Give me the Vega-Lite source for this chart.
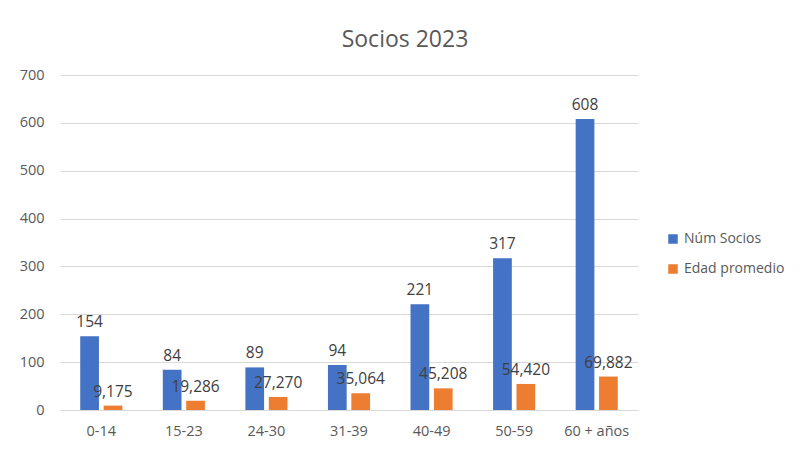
{
  "$schema": "https://vega.github.io/schema/vega-lite/v6.json",
  "width": 578,
  "height": 335,
  "autosize": {"type": "none"},
  "padding": {"left": 60, "top": 75, "right": 164, "bottom": 39},
  "background": "white",
  "config": {
    "locale": {"number": {"decimal": ",", "thousands": ".", "grouping": [3], "currency": ["", ""]}},
    "font": "Open Sans",
    "view": {"stroke": null}
  },
  "title": {
    "text": "Socios 2023",
    "fontSize": 23,
    "fontWeight": "normal",
    "color": "#595959",
    "font": "Open Sans",
    "anchor": "middle",
    "dx": 56,
    "offset": 15
  },
  "data": {
    "values": [
      {"edad": "0-14", "serie": "Núm Socios", "valor": 154},
      {"edad": "0-14", "serie": "Edad promedio", "valor": 9.175},
      {"edad": "15-23", "serie": "Núm Socios", "valor": 84},
      {"edad": "15-23", "serie": "Edad promedio", "valor": 19.286},
      {"edad": "24-30", "serie": "Núm Socios", "valor": 89},
      {"edad": "24-30", "serie": "Edad promedio", "valor": 27.27},
      {"edad": "31-39", "serie": "Núm Socios", "valor": 94},
      {"edad": "31-39", "serie": "Edad promedio", "valor": 35.064},
      {"edad": "40-49", "serie": "Núm Socios", "valor": 221},
      {"edad": "40-49", "serie": "Edad promedio", "valor": 45.208},
      {"edad": "50-59", "serie": "Núm Socios", "valor": 317},
      {"edad": "50-59", "serie": "Edad promedio", "valor": 54.42},
      {"edad": "60 + años", "serie": "Núm Socios", "valor": 608},
      {"edad": "60 + años", "serie": "Edad promedio", "valor": 69.882}
    ]
  },
  "encoding": {
    "x": {
      "field": "edad",
      "type": "nominal",
      "sort": null,
      "title": null,
      "scale": {"paddingInner": 0.49, "paddingOuter": 0.245},
      "axis": {
        "labelAngle": 0,
        "labelFontSize": 14.5,
        "labelColor": "#595959",
        "labelPadding": 14,
        "ticks": false,
        "domainColor": "#d9d9d9",
        "grid": false
      }
    },
    "xOffset": {
      "field": "serie",
      "type": "nominal",
      "sort": ["Núm Socios", "Edad promedio"],
      "scale": {"paddingInner": 0.2, "paddingOuter": 0}
    },
    "y": {
      "field": "valor",
      "type": "quantitative",
      "title": null,
      "scale": {"domain": [0, 700]},
      "axis": {
        "values": [0, 100, 200, 300, 400, 500, 600, 700],
        "format": "d",
        "labelFontSize": 14.5,
        "labelColor": "#595959",
        "labelPadding": 16,
        "ticks": false,
        "domain": false,
        "gridColor": "#d9d9d9"
      }
    }
  },
  "layer": [
    {
      "mark": {"type": "bar"},
      "encoding": {
        "color": {
          "field": "serie",
          "type": "nominal",
          "sort": ["Núm Socios", "Edad promedio"],
          "scale": {"domain": ["Núm Socios", "Edad promedio"], "range": ["#4472C4", "#ED7D31"]},
          "legend": {
            "title": null,
            "orient": "none",
            "legendX": 606,
            "legendY": 157,
            "symbolType": "square",
            "symbolSize": 90,
            "symbolStrokeWidth": 0,
            "labelFontSize": 14,
            "labelColor": "#595959",
            "labelOffset": 4,
            "rowPadding": 16
          }
        }
      }
    },
    {
      "mark": {"type": "text", "baseline": "bottom", "dy": -6, "fontSize": 15.5, "color": "#404040"},
      "encoding": {
        "text": {
          "condition": {"test": "datum.serie === 'Núm Socios'", "field": "valor", "format": "d"},
          "field": "valor",
          "format": ".3f"
        }
      }
    }
  ]
}
